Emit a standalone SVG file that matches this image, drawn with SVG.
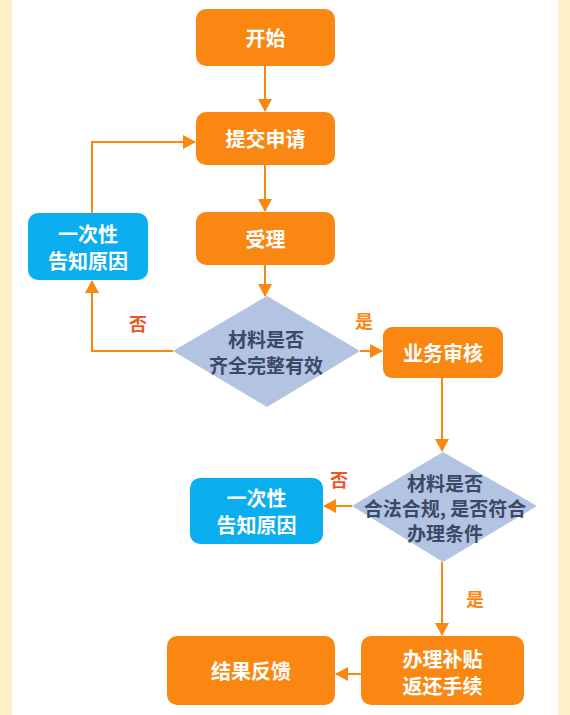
<svg xmlns="http://www.w3.org/2000/svg" width="570" height="715" viewBox="0 0 570 715">
<style>
.o{fill:#FA8711}
.b{fill:#0AAEEE}
.d{fill:#B3C3E2}
.t{font-family:"Noto Sans CJK SC","Noto Sans",sans-serif;font-weight:bold;font-size:20px;text-anchor:middle;dominant-baseline:central;fill:#fff}
.dt{fill:#3B4866;font-size:19px}
.ln{fill:none;stroke:#FA8711;stroke-width:2}
.lb{font-family:"Noto Sans CJK SC","Noto Sans",sans-serif;font-weight:bold;font-size:18px;text-anchor:middle;dominant-baseline:central}
</style>
<defs>
<marker id="ah" markerWidth="14" markerHeight="14" refX="12" refY="7" orient="auto" markerUnits="userSpaceOnUse">
<path d="M0,0 L13,7 L0,14 Z" fill="#FA8711"/>
</marker>
</defs>
<rect x="0" y="0" width="570" height="715" fill="#FEF0C9"/>
<rect x="12" y="0" width="546" height="715" fill="#FFFFFF"/>
<g id="connectors">
<path class="ln" d="M265,66 V111" marker-end="url(#ah)"/>
<path class="ln" d="M265,165 V211" marker-end="url(#ah)"/>
<path class="ln" d="M265,265 V296" marker-end="url(#ah)"/>
<path class="ln" d="M173,351 H92 V281" marker-end="url(#ah)"/>
<path class="ln" d="M92,213 V142 H195" marker-end="url(#ah)"/>
<path class="ln" d="M360,351 H382" marker-end="url(#ah)"/>
<path class="ln" d="M442,378 V451" marker-end="url(#ah)"/>
<path class="ln" d="M352,506 H324" marker-end="url(#ah)"/>
<path class="ln" d="M442,562 V635" marker-end="url(#ah)"/>
<path class="ln" d="M361,674 H336" marker-end="url(#ah)"/>
</g>
<g id="labels">
<text class="lb" x="138" y="323" fill="#EE5420">否</text>
<text class="lb" x="364" y="320" fill="#FA8711">是</text>
<text class="lb" x="339" y="479" fill="#EE5420">否</text>
<text class="lb" x="475" y="598" fill="#FA8711">是</text>
</g>
<g id="start"><rect class="o" x="196" y="9" width="139" height="57" rx="10"/><text class="t" x="265.5" y="37">开始</text></g>
<g id="submit"><rect class="o" x="196" y="112" width="139" height="53" rx="10"/><text class="t" x="265.5" y="138">提交申请</text></g>
<g id="accept"><rect class="o" x="196" y="212" width="139" height="53" rx="10"/><text class="t" x="265.5" y="238">受理</text></g>
<g id="notify1"><rect class="b" x="28" y="213" width="120" height="67" rx="10"/><text class="t" x="88" y="233">一次性</text><text class="t" x="88" y="260">告知原因</text></g>
<g id="check1"><polygon class="d" points="267,296 360,351 267,407 173,351"/><text class="t dt" x="266" y="338">材料是否</text><text class="t dt" x="266" y="364">齐全完整有效</text></g>
<g id="review"><rect class="o" x="383" y="327" width="120" height="51" rx="9"/><text class="t" x="443" y="352">业务审核</text></g>
<g id="check2"><polygon class="d" points="443,452 537,506 443,562 352,506"/><text class="t dt" x="445" y="482">材料是否</text><text class="t dt" x="445" y="507">合法合规, 是否符合</text><text class="t dt" x="445" y="532">办理条件</text></g>
<g id="notify2"><rect class="b" x="190" y="478" width="133" height="66" rx="10"/><text class="t" x="256.5" y="497">一次性</text><text class="t" x="256.5" y="524">告知原因</text></g>
<g id="handle"><rect class="o" x="361" y="636" width="163" height="69" rx="10"/><text class="t" x="442.5" y="658">办理补贴</text><text class="t" x="442.5" y="685">返还手续</text></g>
<g id="feedback"><rect class="o" x="167" y="636" width="168" height="69" rx="10"/><text class="t" x="251" y="670">结果反馈</text></g>
</svg>
